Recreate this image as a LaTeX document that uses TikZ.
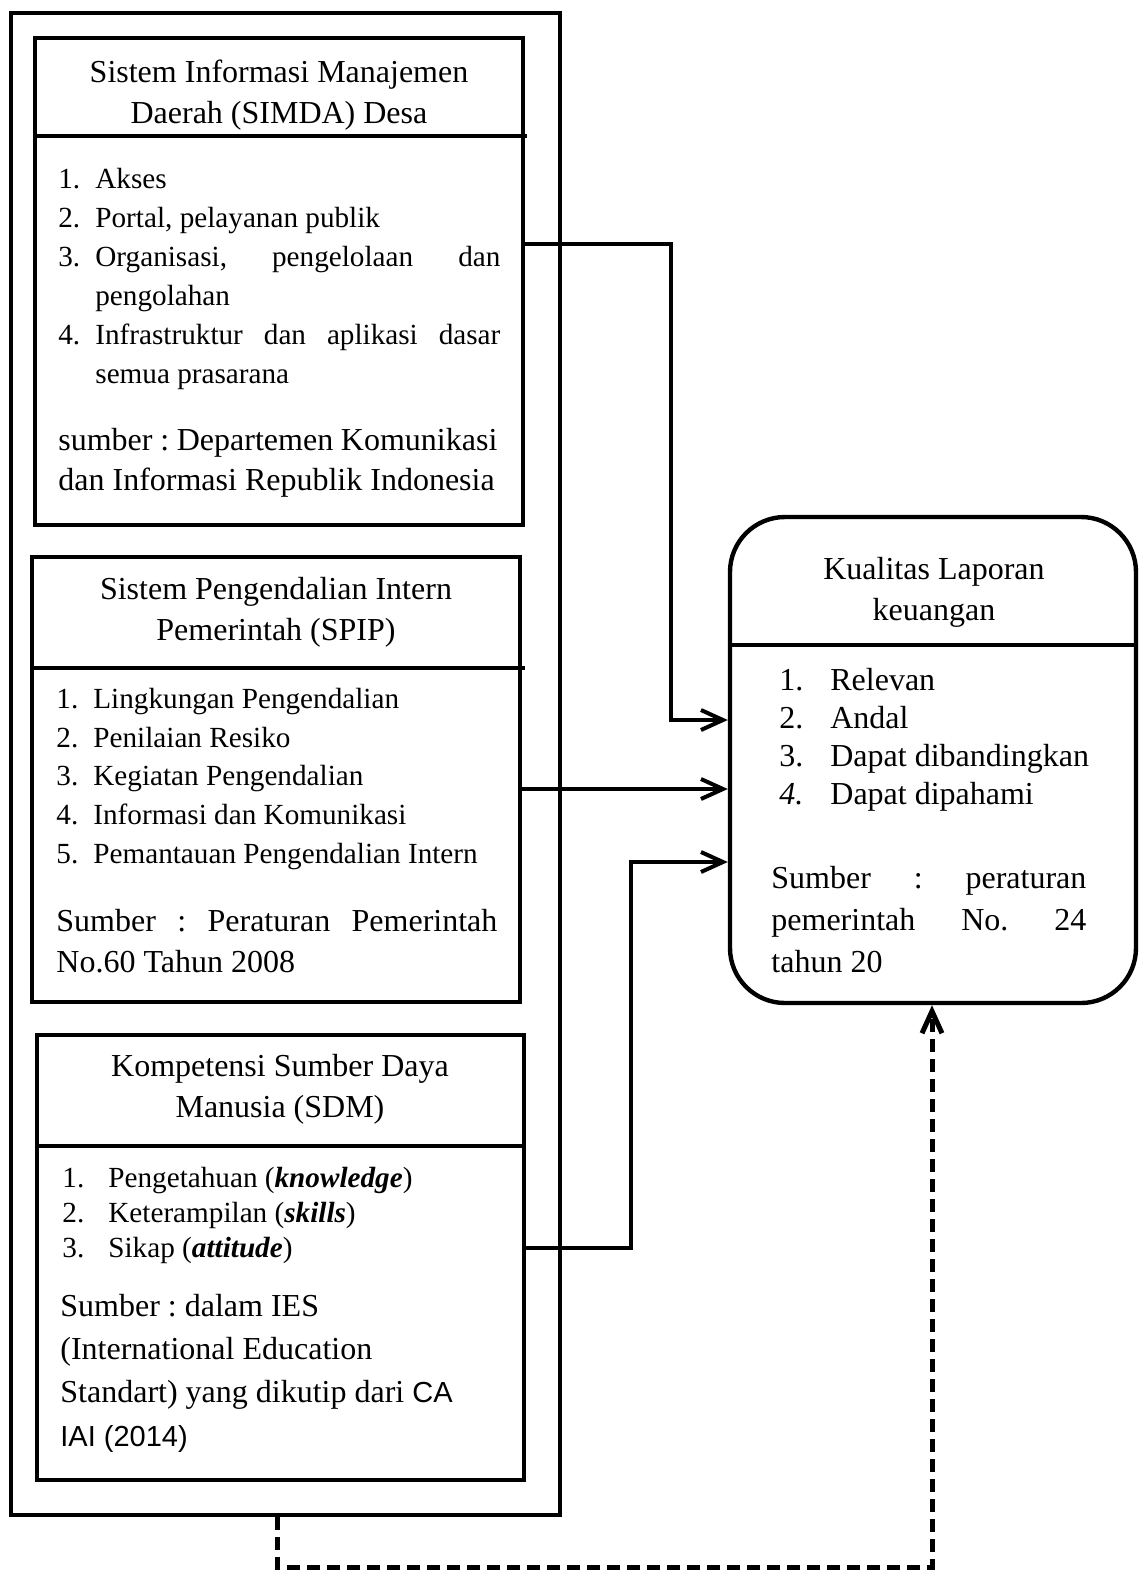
\documentclass[tikz,border=0pt]{standalone}
\usepackage{fontspec}
\setmainfont{Liberation Serif}
\setsansfont{Liberation Sans}
\usetikzlibrary{arrows.meta,fit}

\newlength{\lstind}
\newcommand{\nitem}[2]{\makebox[\lstind][l]{#1}#2}
\newcommand{\natsp}{\frenchspacing\spaceskip=0pt\xspaceskip=0pt\relax}

\begin{document}
\begin{tikzpicture}[x=0.5pt, y=-0.5pt,
  box/.style={draw, line width=2.2pt, inner sep=0pt},
  conn/.style={line width=2pt, -{Straight Barb[length=11pt,width=10pt]}},
  ttl/.style={align=center, inner sep=0pt, font=\fontsize{16}{20.5}\selectfont},
  lst/.style={anchor=west, align=left, inner sep=0pt},
  ]
  \useasboundingbox (0,0) rectangle (1140,1571);

  % Outer frame around the three independent variables
  \node[box, fit={(11,13) (560,1515)}] (outer) {};

  % SIMDA
  \node[box, fit={(35,38) (523,525)}] (simda) {};
  \draw[line width=2.2pt] (simda.west |- 0,136) -- (527,136);
  \node[ttl] (simdattl) at (279,95) {\natsp Sistem Informasi Manajemen\\Daerah (SIMDA) Desa};
  \node[lst, text width=221pt, font=\fontsize{14.6}{19.5}\selectfont] (simdalst) at (58,279) {%
    \natsp\setlength{\lstind}{18.5pt}%
    \nitem{1.}{Akses}\\
    \nitem{2.}{Portal, pelayanan publik}\\
    \nitem{3.}{\makebox[202.5pt][s]{Organisasi, pengelolaan dan}}\\
    \hspace*{\lstind}pengolahan\\
    \nitem{4.}{\makebox[202.5pt][s]{Infrastruktur dan aplikasi dasar}}\\
    \hspace*{\lstind}semua prasarana};
  \node[lst, text width=222pt, font=\fontsize{16}{20}\selectfont] (simdasrc) at (58,463) {%
    \natsp\makebox[219.5pt][s]{sumber : Departemen Komunikasi}\\
    dan Informasi Republik Indonesia};

  % SPIP
  \node[box, fit={(32,557) (520,1002)}] (spip) {};
  \draw[line width=2.2pt] (spip.west |- 0,668) -- (525,668);
  \node[ttl] (spipttl) at (276,612) {\natsp Sistem Pengendalian Intern\\Pemerintah (SPIP)};
  \node[lst, text width=222pt, font=\fontsize{14.6}{19.4}\selectfont] (spiplst) at (56,779) {%
    \natsp\setlength{\lstind}{18.5pt}%
    \nitem{1.}{Lingkungan Pengendalian}\\
    \nitem{2.}{Penilaian Resiko}\\
    \nitem{3.}{Kegiatan Pengendalian}\\
    \nitem{4.}{Informasi dan Komunikasi}\\
    \nitem{5.}{Pemantauan Pengendalian Intern}};
  \node[lst, text width=222pt, font=\fontsize{16}{20.5}\selectfont] (spipsrc) at (56,941) {%
    \natsp\makebox[220.5pt][s]{Sumber : Peraturan Pemerintah}\\
    No.60 Tahun 2008};

  % SDM
  \node[box, fit={(37,1035) (524,1480)}] (sdm) {};
  \draw[line width=2.2pt] (sdm.west |- 0,1146) -- (sdm.east |- 0,1146);
  \node[ttl] (sdmttl) at (280,1089) {\natsp Kompetensi Sumber Daya\\Manusia (SDM)};
  \node[lst, text width=220pt, font=\fontsize{14.6}{17.5}\selectfont] (sdmlst) at (62,1215) {%
    \natsp\setlength{\lstind}{23pt}%
    \nitem{1.}{Pengetahuan (\textbf{\textit{knowledge}})}\\
    \nitem{2.}{Keterampilan (\textbf{\textit{skills}})}\\
    \nitem{3.}{Sikap (\textbf{\textit{attitude}})}};
  \node[lst, text width=220pt, font=\fontsize{16}{21.7}\selectfont] (sdmsrc) at (60,1373) {%
    \natsp Sumber : dalam IES\\
    (International Education\\
    Standart) yang dikutip dari {\sffamily\fontsize{14.5}{21.7}\selectfont CA}\\
    {\sffamily\fontsize{14.5}{21.7}\selectfont IAI (2014)}};

  % Kualitas Laporan Keuangan
  \node[box, rounded corners=27.5pt, fit={(730,517) (1136,1003)}] (kual) {};
  \draw[line width=2.2pt] (kual.west |- 0,645) -- (kual.east |- 0,645);
  \node[ttl] (kualttl) at (934,592) {\natsp Kualitas Laporan\\keuangan};
  \node[lst, text width=160pt, font=\fontsize{16}{19}\selectfont] (kuallst) at (779,740) {%
    \natsp\setlength{\lstind}{25.5pt}%
    \nitem{1.}{Relevan}\\
    \nitem{2.}{Andal}\\
    \nitem{3.}{Dapat dibandingkan}\\
    \nitem{\textit{4.}}{Dapat dipahami}};
  \node[lst, text width=160pt, font=\fontsize{16}{21}\selectfont] (kualsrc) at (771,920) {%
    \natsp\makebox[157.5pt][s]{Sumber : peraturan}\\
    \makebox[157.5pt][s]{pemerintah No. 24}\\
    tahun 20};

  % Connectors
  \draw[conn] (simda.east |- 0,244) -- ++(146,0) |- (kual.west |- 0,720);
  \draw[conn] (spip.east |- 0,789) -- (kual.west |- 0,789);
  \draw[conn] (sdm.east |- 0,1248) -- ++(105,0) |- (kual.west |- 0,862);
  \draw[conn, line width=2.5pt, dash pattern=on 6.5pt off 3.5pt] (outer.south -| 277,0) -- ++(0,50) -| (kual.south -| 932,0);

\end{tikzpicture}
\end{document}
